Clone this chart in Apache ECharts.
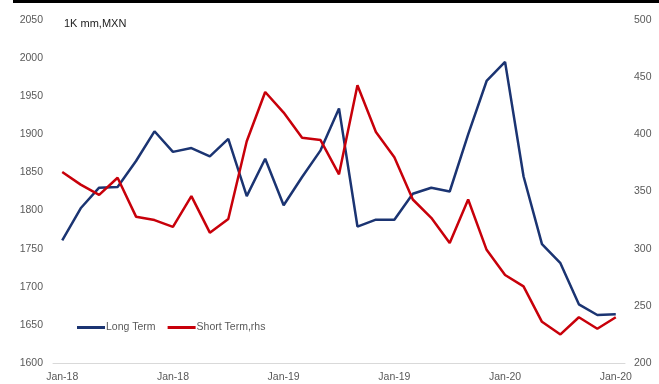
<!DOCTYPE html>
<html>
<head>
<meta charset="utf-8">
<script src="https://cdn.jsdelivr.net/npm/echarts@6/dist/echarts.min.js"></script>
<style>
  html, body { margin: 0; padding: 0; background: #fff; }
  #chart { width: 659px; height: 384px; }
</style>
</head>
<body>
<div id="chart"></div>
<script>
// Monthly observations, Jan-18 through Jul-20
const months = [
  'Jan-18','Feb-18','Mar-18','Apr-18','May-18','Jun-18','Jul-18','Aug-18','Sep-18','Oct-18','Nov-18','Dec-18',
  'Jan-19','Feb-19','Mar-19','Apr-19','May-19','Jun-19','Jul-19','Aug-19','Sep-19','Oct-19','Nov-19','Dec-19',
  'Jan-20','Feb-20','Mar-20','Apr-20','May-20','Jun-20','Jul-20'
];
// Tick labels printed every sixth month
const tickLabels = ['Jan-18', 'Jan-18', 'Jan-19', 'Jan-19', 'Jan-20', 'Jan-20'];

// Long term volume (left axis)
const longTerm = [
  1761, 1803, 1830, 1831, 1865, 1904, 1877, 1882, 1871, 1894, 1819,
  1868, 1807, 1844, 1879, 1934, 1779, 1788, 1788, 1822, 1830, 1825,
  1900, 1970, 1995, 1845, 1756, 1731, 1677, 1663, 1664
];
// Short term volume (right axis)
const shortTerm = [
  367, 356, 347, 362, 328, 325, 319, 346, 314, 326, 394,
  437, 419, 397, 395, 365, 443, 402, 380, 343, 327, 305,
  343, 299, 277, 267, 236, 225, 240, 230, 240
];

const labelColor = '#595959';
const font = '"Liberation Sans", Arial, sans-serif';

const chart = echarts.init(document.getElementById('chart'));
chart.setOption({
  animation: false,
  backgroundColor: '#fff',
  textStyle: { fontFamily: font },
  graphic: [
    { type: 'rect', left: 13, top: 0, shape: { width: 646, height: 3 }, style: { fill: '#000' } },
    { type: 'text', left: 64, top: 18, style: { text: '1K mm,MXN', fill: '#222', font: '11px ' + font } }
  ],
  grid: { left: 53, right: 34, top: 20, bottom: 21 },
  legend: {
    left: 77, top: 322, padding: 0,
    icon: 'rect', itemWidth: 28, itemHeight: 3, itemGap: 12,
    textStyle: { color: labelColor, fontSize: 10.5, fontFamily: font, padding: [0, 0, 0, -4] },
    data: ['Long Term', 'Short Term,rhs']
  },
  xAxis: {
    type: 'category',
    data: months,
    boundaryGap: true,
    axisLine: { lineStyle: { color: '#d9d9d9', width: 1 } },
    axisTick: { show: false },
    axisLabel: {
      interval: 0,
      color: labelColor, fontSize: 10.5, margin: 9,
      formatter: (v, i) => (i % 6 === 0 ? tickLabels[i / 6] : '')
    },
    splitLine: { show: false }
  },
  yAxis: [
    {
      type: 'value', min: 1600, max: 2050, interval: 50,
      axisLine: { show: false }, axisTick: { show: false },
      axisLabel: { color: labelColor, fontSize: 10.5, margin: 10, formatter: v => String(v) },
      splitLine: { show: false }
    },
    {
      type: 'value', min: 200, max: 500, interval: 50, position: 'right',
      axisLine: { show: false }, axisTick: { show: false },
      axisLabel: { color: labelColor, fontSize: 10.5, margin: 9, formatter: v => String(v) },
      splitLine: { show: false }
    }
  ],
  series: [
    {
      name: 'Long Term', type: 'line', yAxisIndex: 0,
      data: longTerm, showSymbol: false,
      itemStyle: { color: '#1b3472' },
      lineStyle: { color: '#1b3472', width: 2.5 }
    },
    {
      name: 'Short Term,rhs', type: 'line', yAxisIndex: 1,
      data: shortTerm, showSymbol: false,
      itemStyle: { color: '#c8000a' },
      lineStyle: { color: '#c8000a', width: 2.5 }
    }
  ]
});
</script>
</body>
</html>
